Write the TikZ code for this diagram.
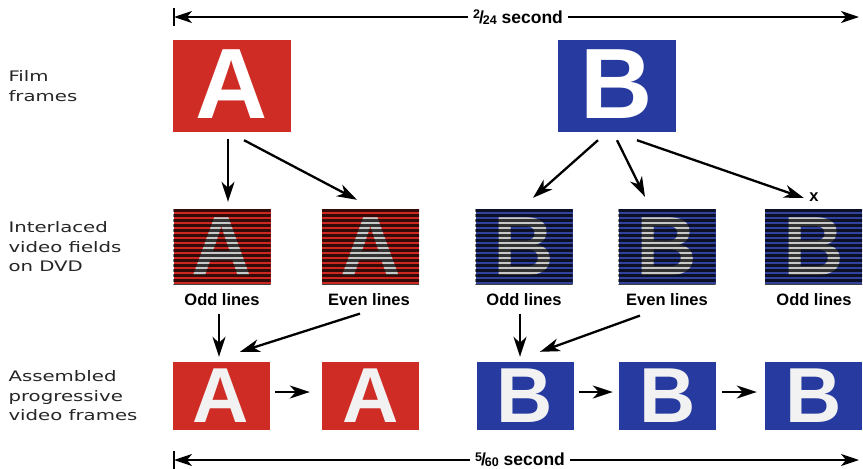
\documentclass[tikz,border=0pt]{standalone}
\usepackage{fontspec}
\setmainfont{Liberation Sans}
\newfontfamily\labelfont[FakeStretch=1.36]{DejaVu Sans}
\usetikzlibrary{arrows.meta,calc}
\definecolor{filmred}{RGB}{206,44,36}
\definecolor{filmblue}{RGB}{38,58,160}
\definecolor{fieldred}{RGB}{205,40,32}
\definecolor{fieldblue}{RGB}{48,66,155}
\definecolor{lettergray}{RGB}{200,200,200}
\definecolor{letterwhite}{RGB}{242,242,242}
\newcommand\fieldstripes[1]{%
  \begin{scope}
    \clip (#1.south west) rectangle (#1.north east);
    \foreach \k in {0,...,15}{\draw[stripe] ($(#1.north west)+(0,1.5+5*\k)$) -- ++(100,0);}
  \end{scope}}
\begin{document}
\begin{tikzpicture}[x=1pt,y=-1pt,
  film/.style={inner sep=0, minimum width=118pt, minimum height=92pt, text=white,
    font=\fontsize{100}{100}\selectfont\bfseries},
  field/.style={inner sep=0, minimum width=97pt, minimum height=75pt, text=lettergray,
    font=\fontsize{84}{84}\selectfont\bfseries},
  prog/.style={inner sep=0, minimum width=97pt, minimum height=68pt, text=letterwhite,
    font=\fontsize{78}{78}\selectfont\bfseries},
  stripe/.style={black, line width=2.6pt, opacity=0.75},
  arr/.style={line width=2.3pt, -{Stealth[length=20pt,width=13pt,inset=6pt]}},
  bar/.style={line width=1.8pt, -{Stealth[length=18pt,width=12pt,inset=5pt]}},
  fcap/.style={font=\fontsize{16.5}{18}\selectfont\bfseries},
  side/.style={anchor=west, align=left, text=black!85, font=\labelfont\fontsize{14.5}{19.5}\selectfont},
  barlabel/.style={fill=white, inner xsep=5pt, font=\fontsize{17.5}{19}\selectfont\bfseries}
]
\useasboundingbox (0,0) rectangle (863,469);

% side labels
\node[side] (l1) at (5,86) {Film\\frames};
\node[side] (l2) at (5,247) {Interlaced\\video fields\\on DVD};
\node[side] (l3) at (5,396) {Assembled\\progressive\\video frames};

% top bar
\coordinate (t1) at (174,17);
\coordinate (t2) at (859,17);
\node[barlabel] (tl) at (518,17) {\raisebox{4.5pt}{\fontsize{12.5}{12}\selectfont 2}\kern-1pt/\kern-1pt\raisebox{-1pt}{\fontsize{12.5}{12}\selectfont 24} second};
\draw[bar] (tl) -- (t1);
\draw[bar] (tl) -- (t2);
\draw[line width=1.8pt] ($(t1)+(0,-9)$) -- ($(t1)+(0,9)$);

% film frames
\node[film, fill=filmred] (fa) at (232,86) {\raisebox{3pt}{A}};
\node[film, fill=filmblue] (fb) at (616.5,86) {\raisebox{3pt}{B}};

% fields
\node[field, fill=fieldred] (f1) at (222,246.5) {A};
\node[field, fill=fieldred] (f2) at (370.5,246.5) {A};
\node[field, fill=fieldblue] (f3) at (524,246.5) {B};
\node[field, fill=fieldblue] (f4) at (667,246.5) {B};
\node[field, fill=fieldblue] (f5) at (813.5,246.5) {B};
\fieldstripes{f1}
\fieldstripes{f2}
\fieldstripes{f3}
\fieldstripes{f4}
\fieldstripes{f5}

% field captions
\node[fcap] (c1) at (222,300) {Odd lines};
\node[fcap] (c2) at (369,300) {Even lines};
\node[fcap] (c3) at (524,300) {Odd lines};
\node[fcap] (c4) at (667,300) {Even lines};
\node[fcap] (c5) at (814,300) {Odd lines};
\node[fcap] (xx) at (814,197) {x};

% progressive frames
\node[prog, fill=filmred] (p1) at (221,396) {A};
\node[prog, fill=filmred] (p2) at (370.5,396) {A};
\node[prog, fill=filmblue] (p3) at (525,396) {B};
\node[prog, fill=filmblue] (p4) at (667.5,396) {B};
\node[prog, fill=filmblue] (p5) at (813.5,396) {B};

% arrows film -> fields
\draw[arr] ($(fa.south)+(-4,7)$) -- ($(f1.north)+(6,-7)$);
\draw[arr] ($(fa.south)+(12,8)$) -- ($(f2.north)+(-13.5,-9)$);
\draw[arr] ($(fb.south)+(-18.5,8)$) -- ($(f3.north)+(9,-11)$);
\draw[arr] ($(fb.south)+(0.5,8)$) -- ($(f4.north)+(-22,-12)$);
\draw[arr] ($(fb.south)+(20.5,8)$) -- ($(xx.west)+(-2,1)$);

% arrows captions -> progressive
\draw[arr] ($(c1.south)+(-3,4)$) -- ($(p1.north)+(-2,-5)$);
\draw[arr] ($(c2.south)+(-9,4)$) -- ($(p1.north)+(19,-10)$);
\draw[arr] ($(c3.south)+(-4,4)$) -- ($(p3.north)+(-5,-5)$);
\draw[arr] ($(c4.south)+(-27,6)$) -- ($(p3.north)+(15,-10)$);

% arrows between progressive frames
\draw[arr] ($(p1.east)+(5.5,-4)$) -- ($(p2.west)+(-12,-4)$);
\draw[arr] ($(p3.east)+(5,-4)$) -- ($(p4.west)+(-6,-4)$);
\draw[arr] ($(p4.east)+(6,-4)$) -- ($(p5.west)+(-8,-4)$);

% bottom bar
\coordinate (b1) at (174,460);
\coordinate (b2) at (859,460);
\node[barlabel] (bl) at (520,460) {\raisebox{4.5pt}{\fontsize{12.5}{12}\selectfont 5}\kern-1pt/\kern-1pt\raisebox{-1pt}{\fontsize{12.5}{12}\selectfont 60} second};
\draw[bar] (bl) -- (b1);
\draw[bar] (bl) -- (b2);
\draw[line width=1.8pt] ($(b1)+(0,-9)$) -- ($(b1)+(0,9)$);
\end{tikzpicture}
\end{document}
